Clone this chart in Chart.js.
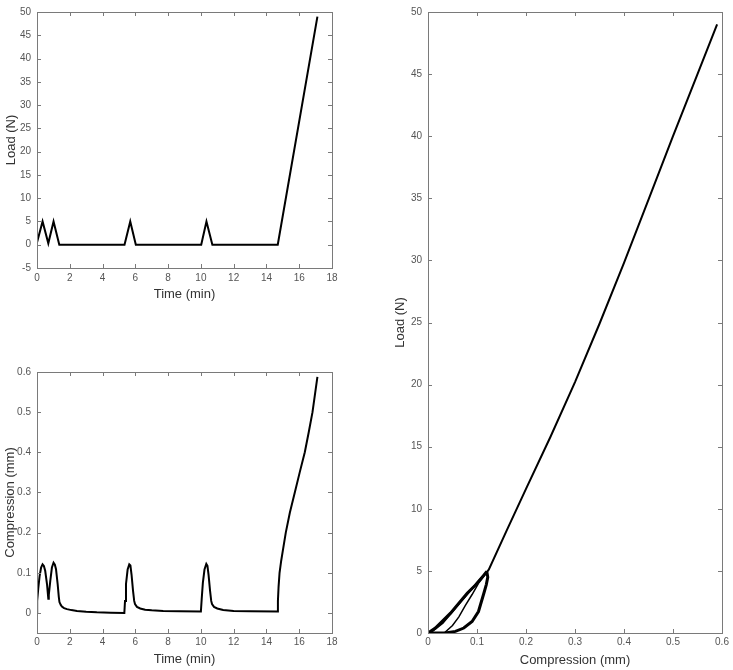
<!DOCTYPE html>
<html>
<head>
<meta charset="utf-8">
<script src="https://cdn.jsdelivr.net/npm/chart.js@4.4.1/dist/chart.umd.min.js"></script>
<style>
  body { margin: 0; background: #fff; }
  #wrap { position: relative; width: 733px; height: 670px; }
  canvas { position: absolute; }
</style>
</head>
<body>
<div id="wrap">
  <canvas id="loadChart" width="345" height="310" style="left:0;top:0"></canvas>
  <canvas id="compChart" width="345" height="310" style="left:0;top:360px"></canvas>
  <canvas id="curveChart" width="353" height="670" style="left:380px;top:0"></canvas>
</div>
<script>
// Load vs time (top left)
const loadTime = [0, 0.34, 0.69, 1.01, 1.36, 5.34, 5.69, 6.03, 10.02, 10.34, 10.70, 14.69, 17.11];
const loadValues = [0.5, 5, 0.3, 5, 0, 0, 5, 0, 0, 5, 0, 0, 49];

// Compression vs time (bottom left)
const compTime = [0, 0.01, 0.08, 0.16, 0.25, 0.34, 0.42, 0.50, 0.61, 0.69, 0.72, 0.81, 0.91, 1.01, 1.09, 1.16, 1.26, 1.33, 1.37, 1.45, 1.52, 1.65, 1.83, 2.10, 2.44, 3.00, 3.65, 4.50, 5.33,
  5.37, 5.43, 5.53, 5.63, 5.70, 5.77, 5.86, 5.93, 5.98, 6.10, 6.30, 6.60, 7.00, 7.70, 8.70, 10.00,
  10.05, 10.12, 10.22, 10.33, 10.40, 10.47, 10.56, 10.63, 10.68, 10.80, 11.00, 11.36, 12.00, 13.00, 14.68,
  14.70, 14.74, 14.80, 14.90, 15.02, 15.18, 15.43, 15.73, 16.03, 16.34, 16.58, 16.81, 17.11];
const compValues = [0, 0.03, 0.062, 0.092, 0.113, 0.121, 0.117, 0.105, 0.072, 0.035, 0.045, 0.08, 0.113, 0.125, 0.12, 0.109, 0.072, 0.04, 0.027, 0.02, 0.016, 0.012, 0.0095, 0.007, 0.005, 0.003, 0.0015, 0.0005, 0,
  0.03, 0.072, 0.108, 0.121, 0.118, 0.095, 0.055, 0.03, 0.022, 0.015, 0.011, 0.008, 0.0065, 0.005, 0.004, 0.0035,
  0.035, 0.075, 0.108, 0.122, 0.117, 0.094, 0.055, 0.03, 0.022, 0.015, 0.011, 0.0074, 0.005, 0.004, 0.0035,
  0.03, 0.065, 0.1, 0.13, 0.16, 0.2, 0.25, 0.3, 0.35, 0.4, 0.45, 0.5, 0.588];

// Load vs compression (right)
const loadingComp = [0, 0.015, 0.029, 0.046, 0.063, 0.08, 0.097, 0.114, 0.12];
const loadingLoad = [0, 0.4, 0.93, 1.6, 2.4, 3.2, 3.86, 4.66, 4.95];
const unloadingComp = [0.12, 0.122, 0.119, 0.114, 0.103, 0.09, 0.073, 0.056, 0.035, 0.015, 0];
const unloadingLoad = [4.95, 4.5, 3.9, 3.2, 1.73, 0.93, 0.4, 0.13, 0, 0, 0];
const reloadComp = [0.033, 0.05, 0.063, 0.076, 0.09, 0.103, 0.115, 0.122];
const reloadLoad = [0, 0.6, 1.3, 2.2, 3.1, 4.0, 4.6, 5.0];
const finalComp = [0.004, 0.03, 0.062, 0.097, 0.124, 0.16, 0.2, 0.25, 0.3, 0.35, 0.4, 0.45, 0.5, 0.55, 0.59];
const finalLoad = [0, 0.8, 2.3, 3.9, 5.1, 8.2, 11.6, 15.8, 20.2, 24.9, 29.8, 34.9, 40.0, 45.0, 49.0];

const TICK_COLOR = '#555555';
const TITLE_COLOR = '#333333';
const AXIS_COLOR = '#7a7a7a';

Chart.defaults.font.family = '"Liberation Sans", Arial, sans-serif';

function toPoints(xs, ys) {
    return xs.map((x, i) => ({ x: x, y: ys[i] }));
}

function lineSet(xs, ys, width) {
    return {
        data: toPoints(xs, ys),
        showLine: true,
        borderColor: '#000',
        borderWidth: width,
        pointRadius: 0,
        tension: 0,
        fill: false
    };
}

// MATLAB style box with inward ticks on all four sides
const boxTicks = {
    id: 'boxTicks',
    afterDraw(chart) {
        const { ctx, chartArea: a, scales } = chart;
        ctx.save();
        ctx.strokeStyle = AXIS_COLOR;
        ctx.lineWidth = 1;
        ctx.beginPath();
        scales.x.ticks.forEach(t => {
            const px = Math.round(scales.x.getPixelForValue(t.value)) + 0.5;
            ctx.moveTo(px, a.bottom); ctx.lineTo(px, a.bottom - 4);
            ctx.moveTo(px, a.top); ctx.lineTo(px, a.top + 4);
        });
        scales.y.ticks.forEach(t => {
            const py = Math.round(scales.y.getPixelForValue(t.value)) + 0.5;
            ctx.moveTo(a.left, py); ctx.lineTo(a.left + 4, py);
            ctx.moveTo(a.right, py); ctx.lineTo(a.right - 4, py);
        });
        ctx.stroke();
        ctx.strokeRect(Math.round(a.left) + 0.5, Math.round(a.top) + 0.5,
            Math.round(a.right - a.left), Math.round(a.bottom - a.top));
        ctx.restore();
    }
};

function axis(min, max, step, title, size, tickPad, titlePad) {
    return {
        type: 'linear',
        min: min,
        max: max,
        ticks: {
            stepSize: step,
            includeBounds: false,
            autoSkip: false,
            maxRotation: 0,
            color: TICK_COLOR,
            font: { size: 10 },
            padding: tickPad
        },
        grid: { display: false, drawTicks: false },
        border: { display: false },
        title: {
            display: true,
            text: title,
            color: TITLE_COLOR,
            font: { size: 13 },
            padding: titlePad
        },
        afterFit(scale) {
            if (scale.isHorizontal()) scale.height = size;
            else scale.width = size;
        }
    };
}

function makeChart(id, datasets, xAxis, yAxis, padding) {
    return new Chart(document.getElementById(id), {
        type: 'scatter',
        data: { datasets: datasets },
        options: {
            responsive: false,
            animation: false,
            layout: { padding: padding },
            plugins: { legend: { display: false }, tooltip: { enabled: false } },
            scales: { x: xAxis, y: yAxis }
        },
        plugins: [boxTicks]
    });
}

makeChart('loadChart',
    [lineSet(loadTime, loadValues, 2)],
    axis(0, 18, 2, 'Time (min)', 42, 4, { top: 0, bottom: 8 }),
    axis(-5, 50, 5, 'Load (N)', 37, 6, { top: 4, bottom: 0 }),
    { top: 8, right: 13, left: 0, bottom: 0 });

makeChart('compChart',
    [lineSet(compTime, compValues, 2)],
    axis(0, 18, 2, 'Time (min)', 37, 3, { top: 0, bottom: 3 }),
    axis(-0.05, 0.6, 0.1, 'Compression (mm)', 37, 6, { top: 3, bottom: 0 }),
    { top: 10, right: 13, left: 0, bottom: 0 });

makeChart('curveChart',
    [
        lineSet(loadingComp, loadingLoad, 3),
        lineSet(unloadingComp, unloadingLoad, 3),
        lineSet(reloadComp, reloadLoad, 1.5),
        lineSet(finalComp, finalLoad, 2)
    ],
    axis(0, 0.6, 0.1, 'Compression (mm)', 37, 3, { top: 0, bottom: 2 }),
    axis(0, 50, 5, 'Load (N)', 48, 6, { top: 13, bottom: 0 }),
    { top: 7, right: 11, left: 0, bottom: 0 });
</script>
</body>
</html>
